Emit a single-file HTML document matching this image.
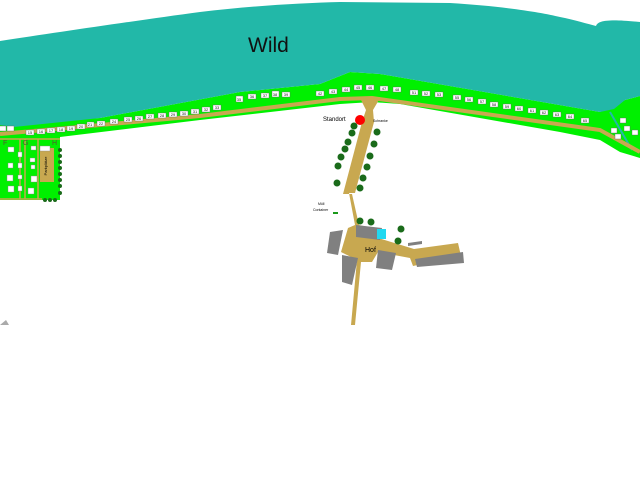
<!DOCTYPE html>
<html><head><meta charset="utf-8"><style>
html,body{margin:0;padding:0;background:#fff;width:640px;height:480px;overflow:hidden}
svg{display:block}
text{font-family:"Liberation Sans",sans-serif}
.n rect{fill:#fff;stroke:#666;stroke-width:.4}
.n text{font-size:4px;fill:#222;text-anchor:middle}
.t{fill:#1a6b1a}
</style></head><body>
<svg width="640" height="480" viewBox="0 0 640 480" xmlns="http://www.w3.org/2000/svg">
<path d="M0,124 L100,118 L240,92 L320,84 L350,72 L380,74 L600,112 L625,100 L640,96 L640,158 L620,152 L600,140 L560,132 L400,104 L372,102 L340,104 L200,120 L60,137 L0,137 Z" fill="#00f000"/>
<path d="M0,41 C60,32 140,20 200,12 C250,6 300,3 340,2 L450,3 C500,6 540,12 560,17 C575,20 588,24 596,26 C598,20 610,19 640,22 L640,96 L625,100 L614,109 L600,112 L380,74 L350,72 L320,84 L240,92 L100,118 L14,127 L0,125 Z" fill="#22b8a8"/>
<path d="M610,112 L632,150" stroke="#22b8a8" stroke-width="2"/>
<path d="M0,134 L200,116 L340,99 L372,98 L600,130 L640,152" fill="none" stroke="#c8a850" stroke-width="4"/>
<rect x="0" y="137" width="60" height="63" fill="#00f000"/>
<path d="M0,139 H60 M0,199 H42 M20,139 V199 M25,139 V199 M38,139 V199" stroke="#c8a850" stroke-width="1.5"/>
<rect x="40" y="148" width="14" height="34" fill="#c8a850"/>
<text x="47" y="166" font-size="4" transform="rotate(-90 47 166)" text-anchor="middle">Parkplätze</text>
<text x="3" y="145" font-size="7" fill="#553">F</text>
<text x="23" y="145" font-size="7" fill="#553">G</text>
<text x="52" y="145" font-size="7" fill="#553">H</text>
<g fill="#fff" stroke="#888" stroke-width=".4">
<rect x="8" y="147" width="6" height="5"/><rect x="8" y="163" width="5" height="5"/><rect x="7" y="175" width="6" height="6"/><rect x="8" y="186" width="6" height="6"/>
<rect x="18" y="152" width="4" height="5"/><rect x="18" y="163" width="4" height="5"/><rect x="18" y="175" width="4" height="4"/><rect x="18" y="186" width="4" height="5"/>
<rect x="31" y="146" width="5" height="4"/><rect x="30" y="158" width="5" height="4"/><rect x="31" y="165" width="4" height="4"/><rect x="31" y="176" width="6" height="6"/><rect x="28" y="188" width="6" height="6"/><rect x="40" y="146" width="10" height="5"/>
</g>
<g class="t"><circle cx="60" cy="150" r="2"/><circle cx="60" cy="156" r="2"/><circle cx="60" cy="162" r="2"/><circle cx="60" cy="168" r="2"/><circle cx="60" cy="174" r="2"/><circle cx="60" cy="180" r="2"/><circle cx="60" cy="186" r="2"/><circle cx="60" cy="193" r="2"/><circle cx="45" cy="200" r="2"/><circle cx="50" cy="200" r="2"/><circle cx="55" cy="200" r="2"/></g>
<g class="n">
<rect x="-2" y="126" width="8" height="5"/><rect x="7" y="126" width="7" height="5"/>
<rect x="26" y="130" width="8" height="5"/><text x="30" y="134">15</text>
<rect x="37" y="129" width="8" height="5"/><text x="41" y="133">16</text>
<rect x="47" y="128" width="8" height="5"/><text x="51" y="132">17</text>
<rect x="57" y="127" width="8" height="5"/><text x="61" y="131">18</text>
<rect x="67" y="126" width="8" height="5"/><text x="71" y="130">19</text>
<rect x="77" y="124" width="8" height="5"/><text x="81" y="128">20</text>
<rect x="87" y="122" width="7" height="5"/><text x="90" y="126">21</text>
<rect x="97" y="121" width="8" height="5"/><text x="101" y="125">22</text>
<rect x="110" y="119" width="8" height="5"/><text x="114" y="123">24</text>
<rect x="124" y="117" width="8" height="5"/><text x="128" y="121">25</text>
<rect x="135" y="116" width="8" height="5"/><text x="139" y="120">26</text>
<rect x="146" y="114" width="8" height="5"/><text x="150" y="118">27</text>
<rect x="158" y="113" width="8" height="5"/><text x="162" y="117">28</text>
<rect x="169" y="112" width="8" height="5"/><text x="173" y="116">29</text>
<rect x="180" y="111" width="8" height="5"/><text x="184" y="115">30</text>
<rect x="191" y="109" width="8" height="5"/><text x="195" y="113">31</text>
<rect x="202" y="107" width="8" height="5"/><text x="206" y="111">32</text>
<rect x="213" y="105" width="8" height="5"/><text x="217" y="109">33</text>
<rect x="236" y="96" width="7" height="6"/><text x="239" y="101">35</text>
<rect x="248" y="94" width="8" height="5"/><text x="252" y="98">36</text>
<rect x="261" y="93" width="8" height="5"/><text x="265" y="97">37</text>
<rect x="272" y="91" width="7" height="6"/><text x="275" y="96">38</text>
<rect x="282" y="92" width="8" height="5"/><text x="286" y="96">39</text>
<rect x="316" y="91" width="8" height="5"/><text x="320" y="95">42</text>
<rect x="329" y="89" width="8" height="5"/><text x="333" y="93">43</text>
<rect x="342" y="87" width="8" height="5"/><text x="346" y="91">44</text>
<rect x="354" y="85" width="8" height="5"/><text x="358" y="89">45</text>
<rect x="366" y="85" width="8" height="5"/><text x="370" y="89">46</text>
<rect x="380" y="86" width="8" height="5"/><text x="384" y="90">47</text>
<rect x="393" y="87" width="8" height="5"/><text x="397" y="91">48</text>
<rect x="410" y="90" width="8" height="5"/><text x="414" y="94">51</text>
<rect x="422" y="91" width="8" height="5"/><text x="426" y="95">52</text>
<rect x="435" y="92" width="8" height="5"/><text x="439" y="96">53</text>
<rect x="453" y="95" width="8" height="5"/><text x="457" y="99">55</text>
<rect x="465" y="97" width="8" height="5"/><text x="469" y="101">56</text>
<rect x="478" y="99" width="8" height="5"/><text x="482" y="103">57</text>
<rect x="490" y="102" width="8" height="5"/><text x="494" y="106">58</text>
<rect x="503" y="104" width="8" height="5"/><text x="507" y="108">59</text>
<rect x="515" y="106" width="8" height="5"/><text x="519" y="110">60</text>
<rect x="528" y="108" width="8" height="5"/><text x="532" y="112">61</text>
<rect x="540" y="110" width="8" height="5"/><text x="544" y="114">62</text>
<rect x="553" y="112" width="8" height="5"/><text x="557" y="116">63</text>
<rect x="566" y="114" width="8" height="5"/><text x="570" y="118">64</text>
<rect x="581" y="118" width="8" height="5"/><text x="585" y="122">65</text>
<rect x="620" y="118" width="6" height="5"/><rect x="624" y="126" width="6" height="5"/><rect x="611" y="128" width="6" height="5"/><rect x="615" y="134" width="6" height="5"/><rect x="632" y="130" width="6" height="5"/>
</g>
<text x="248" y="52" font-size="21" fill="#111">Wild</text>
<g fill="#c8a850">
<path d="M360,98 L380,98 L373,110 L374,122 L355,193 L349,193 L355,225 L348,228 L341,252 L357,260 L351,325 L355,325 L361,262 L372,262 L378,252 L410,258 L413,266 L461,256 L458,243 L414,249 L378,238 L372,228 L359,225 L352,194 L343,194 L362,122 L366,110 Z"/>
</g>
<g fill="#808080">
<polygon points="330,232 343,230 338,255 327,253"/>
<polygon points="342,255 358,258 352,285 342,282"/>
<polygon points="378,250 396,253 392,270 376,268"/>
<polygon points="356,225 382,228 380,240 356,237"/>
<polygon points="415,259 463,252 464,263 417,267"/>
<polygon points="408,243 422,241 422,244 408,246"/>
</g>
<rect x="377" y="229" width="9" height="10" fill="#22d8f0"/>
<rect x="333" y="212" width="5" height="2" fill="#1a9a1a"/>
<g class="t">
<circle cx="354" cy="126" r="3.5"/><circle cx="352" cy="133" r="3.5"/><circle cx="348" cy="142" r="3.5"/><circle cx="345" cy="149" r="3.5"/><circle cx="341" cy="157" r="3.5"/><circle cx="338" cy="166" r="3.5"/><circle cx="337" cy="183" r="3.5"/>
<circle cx="377" cy="132" r="3.5"/><circle cx="374" cy="144" r="3.5"/><circle cx="370" cy="156" r="3.5"/><circle cx="367" cy="167" r="3.5"/><circle cx="363" cy="178" r="3.5"/><circle cx="360" cy="188" r="3.5"/>
<circle cx="360" cy="221" r="3.5"/><circle cx="371" cy="222" r="3.5"/><circle cx="401" cy="229" r="3.5"/><circle cx="398" cy="241" r="3.5"/>
</g>
<circle cx="360" cy="120" r="5" fill="#f00"/>
<text x="323" y="121" font-size="6">Standort</text>
<text x="373" y="122" font-size="3.5">Schranke</text>
<text x="365" y="252" font-size="7">Hof</text>
<text x="318" y="205" font-size="3.5">Müll</text>
<text x="313" y="211" font-size="3.5">Container</text>
<polygon points="0,325 6,320 9,325" fill="#aaa"/>
</svg>
</body></html>
